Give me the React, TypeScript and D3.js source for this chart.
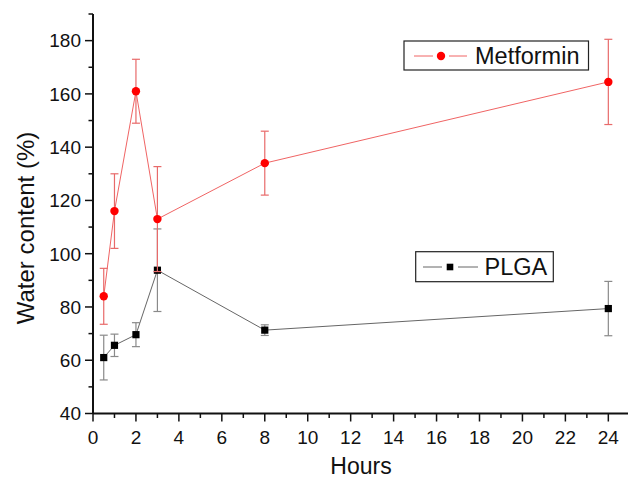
import React, { useEffect, useRef } from "react";
import * as d3 from "d3";

// hours sampled
const hours = [0.5, 1, 2, 3, 8, 24];
// water content (%) and error (SD) per series
const metforminMean = [84, 116, 161, 113, 134, 164.5];
const metforminErr = [10.5, 14, 12, 19.7, 12, 16];
const plgaMean = [61, 65.6, 69.6, 93.8, 71.3, 79.4];
const plgaErr = [8.4, 4.2, 4.5, 15.5, 2, 10.2];

const xTicks = [0, 2, 4, 6, 8, 10, 12, 14, 16, 18, 20, 22, 24];
const yTicks = [40, 60, 80, 100, 120, 140, 160, 180];

const FONT = "Arial, 'Liberation Sans', sans-serif";

const App = () => {
    const ref = useRef<SVGSVGElement>(null);

    useEffect(() => {
        const svg = d3.select(ref.current);
        svg.selectAll("*").remove();

        const x = d3.scaleLinear().domain([0, 25]).range([93, 629.8]);
        const y = d3.scaleLinear().domain([40, 190]).range([413.5, 14]);

        const series = [
            { name: "Metformin", mean: metforminMean, err: metforminErr, line: "#f06464", bar: "#e86a6a", mark: "#ff0000", shape: "circle" },
            { name: "PLGA", mean: plgaMean, err: plgaErr, line: "#666666", bar: "#8a8a8a", mark: "#000000", shape: "square" },
        ];

        // draw PLGA first so metformin sits on top
        [series[1], series[0]].forEach(s => {
            const pts = hours.map((h, i) => ({ h, v: s.mean[i], e: s.err[i] }));
            const g = svg.append("g");

            g.append("path")
                .datum(pts)
                .attr("fill", "none")
                .attr("stroke", s.line)
                .attr("stroke-width", 1)
                .attr("d", d3.line<any>().x(d => x(d.h)).y(d => y(d.v)));

            const eb = g.selectAll(".eb").data(pts).enter().append("g");
            eb.append("line")
                .attr("x1", d => x(d.h)).attr("x2", d => x(d.h))
                .attr("y1", d => y(d.v + d.e)).attr("y2", d => y(d.v - d.e))
                .attr("stroke", s.bar).attr("stroke-width", 1.2);
            [1, -1].forEach(sign => {
                eb.append("line")
                    .attr("x1", d => x(d.h) - 4).attr("x2", d => x(d.h) + 4)
                    .attr("y1", d => y(d.v + sign * d.e)).attr("y2", d => y(d.v + sign * d.e))
                    .attr("stroke", s.bar).attr("stroke-width", 1.2);
            });

            if (s.shape === "circle") {
                g.selectAll(".m").data(pts).enter().append("circle")
                    .attr("cx", d => x(d.h)).attr("cy", d => y(d.v))
                    .attr("r", 4.2).attr("fill", s.mark);
            } else {
                g.selectAll(".m").data(pts).enter().append("rect")
                    .attr("x", d => x(d.h) - 3.6).attr("y", d => y(d.v) - 3.6)
                    .attr("width", 7.2).attr("height", 7.2).attr("fill", s.mark);
            }
        });

        // axes
        const axis = svg.append("g").attr("stroke", "#111").attr("stroke-width", 2);
        axis.append("line").attr("x1", 93).attr("x2", 628).attr("y1", 413.5).attr("y2", 413.5);
        axis.append("line").attr("x1", 93).attr("x2", 93).attr("y1", 14).attr("y2", 413.5);

        d3.range(0, 26, 1).forEach(t => {
            const major = t % 2 === 0;
            axis.append("line")
                .attr("x1", x(t)).attr("x2", x(t))
                .attr("y1", 413.5).attr("y2", 413.5 + (major ? 8 : 4.5))
                .attr("stroke-width", 1.5);
        });
        d3.range(40, 191, 10).forEach(t => {
            const major = t % 20 === 0;
            axis.append("line")
                .attr("x1", 93).attr("x2", 93 - (major ? 8 : 4.5))
                .attr("y1", y(t)).attr("y2", y(t))
                .attr("stroke-width", 1.5);
        });

        svg.selectAll(".xt").data(xTicks).enter().append("text")
            .attr("x", d => x(d)).attr("y", 444)
            .attr("text-anchor", "middle")
            .attr("font-family", FONT).attr("font-size", 19).attr("fill", "#111")
            .text(d => d);
        svg.selectAll(".yt").data(yTicks).enter().append("text")
            .attr("x", 81).attr("y", d => y(d)).attr("dy", "0.36em")
            .attr("text-anchor", "end")
            .attr("font-family", FONT).attr("font-size", 19).attr("fill", "#111")
            .text(d => d);

        svg.append("text")
            .attr("x", 361).attr("y", 473.5)
            .attr("text-anchor", "middle")
            .attr("font-family", FONT).attr("font-size", 23).attr("fill", "#111")
            .text("Hours");
        svg.append("text")
            .attr("transform", "translate(33.5,228) rotate(-90)")
            .attr("text-anchor", "middle")
            .attr("font-family", FONT).attr("font-size", 24).attr("fill", "#111")
            .text("Water content (%)");

        // legends
        const legends = [
            { s: series[0], box: [404, 41, 184.5, 29], x1: 414, x2: 467, mx: 441, ty: 56, tx: 475 },
            { s: series[1], box: [415.7, 251.7, 137.6, 30], x1: 423, x2: 478, mx: 450, ty: 267, tx: 484.5 },
        ];
        legends.forEach(l => {
            const g = svg.append("g");
            g.append("rect")
                .attr("x", l.box[0]).attr("y", l.box[1]).attr("width", l.box[2]).attr("height", l.box[3])
                .attr("fill", "white").attr("stroke", "#222").attr("stroke-width", 1.2);
            g.append("line").attr("x1", l.x1).attr("x2", l.mx - 8).attr("y1", l.ty).attr("y2", l.ty)
                .attr("stroke", l.s.line).attr("stroke-width", 1);
            g.append("line").attr("x1", l.mx + 8).attr("x2", l.x2).attr("y1", l.ty).attr("y2", l.ty)
                .attr("stroke", l.s.line).attr("stroke-width", 1);
            if (l.s.shape === "circle") {
                g.append("circle").attr("cx", l.mx).attr("cy", l.ty).attr("r", 4.2).attr("fill", l.s.mark);
            } else {
                g.append("rect").attr("x", l.mx - 3.3).attr("y", l.ty - 3.3).attr("width", 6.6).attr("height", 6.6).attr("fill", l.s.mark);
            }
            g.append("text")
                .attr("x", l.tx).attr("y", l.ty).attr("dy", "0.36em")
                .attr("font-family", FONT).attr("font-size", 23.5).attr("fill", "#111")
                .text(l.s.name);
        });
    }, []);

    return (
        <div style={{ position: "absolute", left: 0, top: 0 }}>
            <svg ref={ref} width={628} height={479} style={{ display: "block", background: "white" }}></svg>
        </div>
    );
};

export default App;
